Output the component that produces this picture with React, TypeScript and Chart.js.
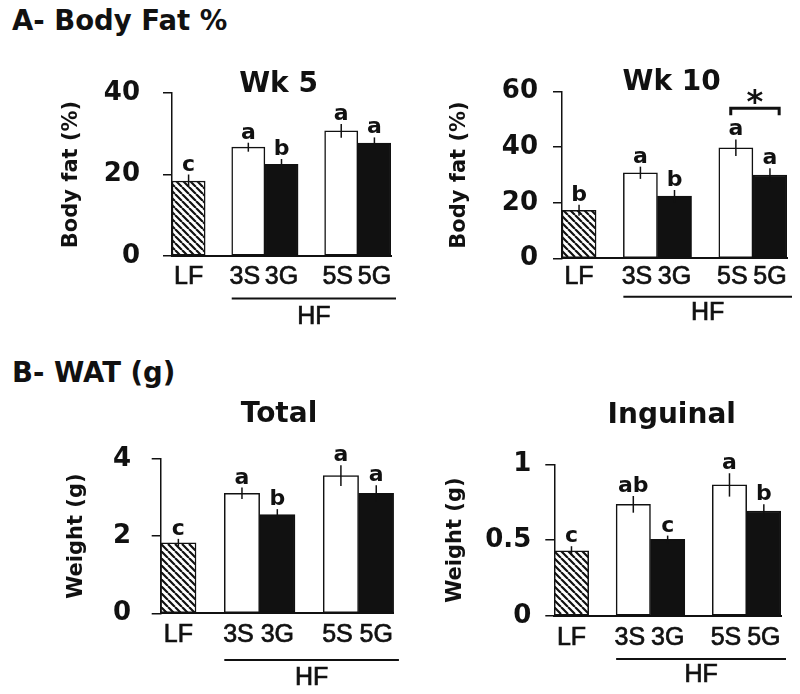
import React, { useEffect, useRef } from "react";
import { Chart, registerables } from "chart.js";

Chart.register(...registerables);

// ---------------- data ----------------
const categories = ["LF", "3S", "3G", "5S", "5G"];
const groupOf = [0, 1, 1, 2, 2];
const hfLabel = "HF";

const wk5Values = [18.4, 26.7, 22.5, 30.7, 27.7];
const wk5Errors = [1.6, 1.1, 1.3, 1.7, 1.4];
const wk5Letters = ["c", "a", "b", "a", "a"];

const wk10Values = [17.3, 30.8, 22.4, 39.8, 30.0];
const wk10Errors = [2.0, 2.2, 2.2, 3.0, 2.4];
const wk10Letters = ["b", "a", "b", "a", "a"];
const wk10Star = { from: 3, to: 4, level: 54, label: "*" };

const totalValues = [1.83, 3.11, 2.56, 3.57, 3.11];
const totalErrors = [0.1, 0.15, 0.14, 0.27, 0.21];
const totalLetters = ["c", "a", "b", "a", "a"];

const inguinalValues = [0.43, 0.736, 0.505, 0.864, 0.692];
const inguinalErrors = [0.03, 0.055, 0.025, 0.077, 0.044];
const inguinalLetters = ["c", "ab", "c", "a", "b"];

const headingA = "A- Body Fat %";
const headingB = "B- WAT (g)";

// ---------------- layout ----------------
const GROUP_GAP = 0.8;
const X_H = 40;
const BOLD = "'DejaVu Sans', 'Liberation Sans', Arial, sans-serif";
const REG = "'Liberation Sans', Arial, sans-serif";

type Star = { from: number; to: number; level: number; label: string };
type Panel = {
  key: string;
  title: string;
  yTitle: string;
  values: number[];
  errors: number[];
  letters: string[];
  yMax: number;
  yStep: number;
  star?: Star;
  box: { left: number; top: number; width: number; height: number };
  area: { left: number; top: number; right: number; bottom: number };
  titleX: number;
  titleY: number;
  yTitleX: number;
  tickPad: number;
  xPad: number;
  hfLineDy: number;
  hfTextDy: number;
};

const panels: Panel[] = [
  {
    key: "wk5", title: "Wk 5", yTitle: "Body fat (%)",
    values: wk5Values, errors: wk5Errors, letters: wk5Letters, yMax: 40, yStep: 20,
    box: { left: 0, top: 40, width: 400, height: 290 },
    area: { left: 172, top: 53, right: 391, bottom: 216 },
    titleX: 278.5, titleY: 51.7, yTitleX: 72, tickPad: 23, xPad: 6.5, hfLineDy: 42.5, hfTextDy: 61,
  },
  {
    key: "wk10", title: "Wk 10", yTitle: "Body fat (%)",
    values: wk10Values, errors: wk10Errors, letters: wk10Letters, yMax: 60, yStep: 20, star: wk10Star,
    box: { left: 400, top: 40, width: 400, height: 290 },
    area: { left: 162, top: 51.7, right: 387, bottom: 218.3 },
    titleX: 271.7, titleY: 50, yTitleX: 60, tickPad: 15, xPad: 3.5, hfLineDy: 38.4, hfTextDy: 55,
  },
  {
    key: "total", title: "Total", yTitle: "Weight (g)",
    values: totalValues, errors: totalErrors, letters: totalLetters, yMax: 4, yStep: 2,
    box: { left: 0, top: 390, width: 400, height: 304 },
    area: { left: 160.7, top: 69, right: 395, bottom: 223.3 },
    titleX: 279, titleY: 31.7, yTitleX: 76.7, tickPad: 20.7, xPad: 6.7, hfLineDy: 46.7, hfTextDy: 65,
  },
  {
    key: "inguinal", title: "Inguinal", yTitle: "Weight (g)",
    values: inguinalValues, errors: inguinalErrors, letters: inguinalLetters, yMax: 1, yStep: 0.5,
    box: { left: 400, top: 390, width: 400, height: 304 },
    area: { left: 154.3, top: 74.3, right: 381, bottom: 226 },
    titleX: 271.7, titleY: 33, yTitleX: 56, tickPad: 14, xPad: 6.8, hfLineDy: 43, hfTextDy: 59,
  },
];

function makeHatch(): CanvasPattern | string {
  const s = 7;
  const c = document.createElement("canvas");
  c.width = s;
  c.height = s;
  const g = c.getContext("2d");
  if (!g) return "#888";
  g.fillStyle = "#ffffff";
  g.fillRect(0, 0, s, s);
  g.strokeStyle = "#111111";
  g.lineWidth = 2.2;
  g.beginPath();
  for (let k = -1; k <= 1; k++) {
    g.moveTo(k * s, 0);
    g.lineTo(k * s + s, s);
  }
  g.stroke();
  return g.createPattern(c, "repeat") || "#888";
}

function PanelChart({ p }: { p: Panel }) {
  const ref = useRef<HTMLCanvasElement>(null);
  useEffect(() => {
    const canvas = ref.current;
    if (!canvas) return;
    const hatch = makeHatch();
    const colors = categories.map((c, i) =>
      i === 0 ? hatch : c.endsWith("S") ? "#ffffff" : "#111111"
    );
    const xs = categories.map((_, i) => i + groupOf[i] * GROUP_GAP);

    const annot = {
      id: "annot",
      afterDraw(chart: any) {
        const ctx = chart.ctx as CanvasRenderingContext2D;
        const ys = chart.scales.y;
        const area = chart.chartArea;
        const bars = chart.getDatasetMeta(0).data;
        ctx.save();
        // error bars
        ctx.strokeStyle = "#111";
        ctx.lineWidth = 1.5;
        bars.forEach((bar: any, i: number) => {
          const t = ys.getPixelForValue(p.values[i] + p.errors[i]);
          const b = ys.getPixelForValue(p.values[i] - p.errors[i]);
          ctx.beginPath();
          ctx.moveTo(bar.x, t);
          ctx.lineTo(bar.x, b);
          ctx.stroke();
        });
        // letters
        ctx.fillStyle = "#111";
        ctx.font = `bold 22px ${BOLD}`;
        ctx.textAlign = "center";
        ctx.textBaseline = "alphabetic";
        bars.forEach((bar: any, i: number) => {
          const t = ys.getPixelForValue(p.values[i] + p.errors[i]);
          ctx.fillText(p.letters[i], bar.x, t - 4);
        });
        // title
        ctx.font = `bold 28px ${BOLD}`;
        ctx.fillText(p.title, p.titleX, p.titleY);
        // HF bracket
        const first = bars[1];
        const x1 = first.x - first.width / 2;
        const x2 = area.right + 5;
        const ly = area.bottom + p.hfLineDy;
        ctx.lineWidth = 2;
        ctx.beginPath();
        ctx.moveTo(x1, ly);
        ctx.lineTo(x2, ly);
        ctx.stroke();
        ctx.font = `25px ${REG}`;
        ctx.textBaseline = "middle";
        ctx.lineWidth = 0.7;
        ctx.strokeText(hfLabel, (x1 + x2) / 2, area.bottom + p.hfTextDy);
        ctx.fillText(hfLabel, (x1 + x2) / 2, area.bottom + p.hfTextDy);
        // significance star
        if (p.star) {
          const a = bars[p.star.from];
          const b = bars[p.star.to];
          const sx1 = a.x - a.width * 0.15;
          const sx2 = b.x + b.width * 0.27;
          const sy = ys.getPixelForValue(p.star.level);
          ctx.lineWidth = 3;
          ctx.beginPath();
          ctx.moveTo(sx1, sy + 7);
          ctx.lineTo(sx1, sy);
          ctx.lineTo(sx2, sy);
          ctx.lineTo(sx2, sy + 7);
          ctx.stroke();
          ctx.font = `bold 32px ${BOLD}`;
          ctx.textBaseline = "alphabetic";
          ctx.fillText(p.star.label, (sx1 + sx2) / 2, sy + 4);
        }
        ctx.restore();
      },
    };

    const chart = new Chart(canvas, {
      type: "bar",
      data: {
        datasets: [
          {
            data: xs.map((x, i) => ({ x, y: p.values[i] })),
            backgroundColor: colors as any,
            borderColor: "#111111",
            borderWidth: 1.5,
            borderSkipped: false,
            barPercentage: 1,
            categoryPercentage: 1,
          } as any,
        ],
      },
      options: {
        responsive: false,
        animation: false,
        events: [],
        layout: {
          padding: {
            left: 0,
            top: p.area.top,
            right: p.box.width - p.area.right,
            bottom: p.box.height - p.area.bottom - X_H,
          },
        },
        plugins: {
          legend: { display: false },
          tooltip: { enabled: false },
          title: { display: false },
        },
        scales: {
          x: {
            type: "linear",
            min: -0.5,
            max: xs[xs.length - 1] + 0.5,
            offset: false,
            grid: { display: false, drawTicks: false },
            border: { display: true, color: "#111111", width: 2 },
            afterBuildTicks: (s: any) => {
              s.ticks = xs.map((v) => ({ value: v }));
            },
            afterFit: (s: any) => {
              s.height = X_H;
            },
            ticks: {
              autoSkip: false,
              maxRotation: 0,
              minRotation: 0,
              padding: p.xPad,
              color: "#111111",
              textStrokeColor: "#111111",
              textStrokeWidth: 0.7,
              font: { family: REG, size: 25 },
              callback: (_v: any, i: number) =>
                categories[i].endsWith("S") ? categories[i] + " " : categories[i],
            },
          },
          y: {
            min: 0,
            max: p.yMax,
            afterFit: (s: any) => {
              s.width = p.area.left;
            },
            ticks: {
              stepSize: p.yStep,
              padding: p.tickPad,
              color: "#111111",
              font: { family: BOLD, weight: "bold", size: 26 },
              callback: (v: any) => String(v),
            },
            grid: {
              display: true,
              drawOnChartArea: false,
              drawTicks: true,
              tickLength: 9,
              color: "#111111",
              lineWidth: 1.5,
            },
            border: { display: true, color: "#111111", width: 1.5 },
            title: {
              display: true,
              text: p.yTitle,
              color: "#111111",
              font: { family: BOLD, weight: "bold", size: 21 },
              padding: { top: p.yTitleX - 12.6, bottom: 0 },
            },
          },
        },
      } as any,
      plugins: [annot],
    });
    return () => chart.destroy();
  }, [p]);

  return (
    <canvas
      ref={ref}
      width={p.box.width}
      height={p.box.height}
      style={{
        position: "absolute",
        left: p.box.left,
        top: p.box.top,
        width: p.box.width,
        height: p.box.height,
      }}
    />
  );
}

const headingStyle: React.CSSProperties = {
  position: "absolute",
  left: 12,
  fontFamily: BOLD,
  fontWeight: "bold",
  fontSize: 27.5,
  lineHeight: "27.5px",
  color: "#111",
  whiteSpace: "nowrap",
};

export default function App() {
  return (
    <div
      style={{
        position: "absolute",
        left: 0,
        top: 0,
        width: 800,
        height: 694,
        background: "#ffffff",
        overflow: "hidden",
      }}
    >
      <div style={{ ...headingStyle, top: 6.7 }}>{headingA}</div>
      <div style={{ ...headingStyle, top: 358.7 }}>{headingB}</div>
      {panels.map((p) => (
        <PanelChart key={p.key} p={p} />
      ))}
    </div>
  );
}
